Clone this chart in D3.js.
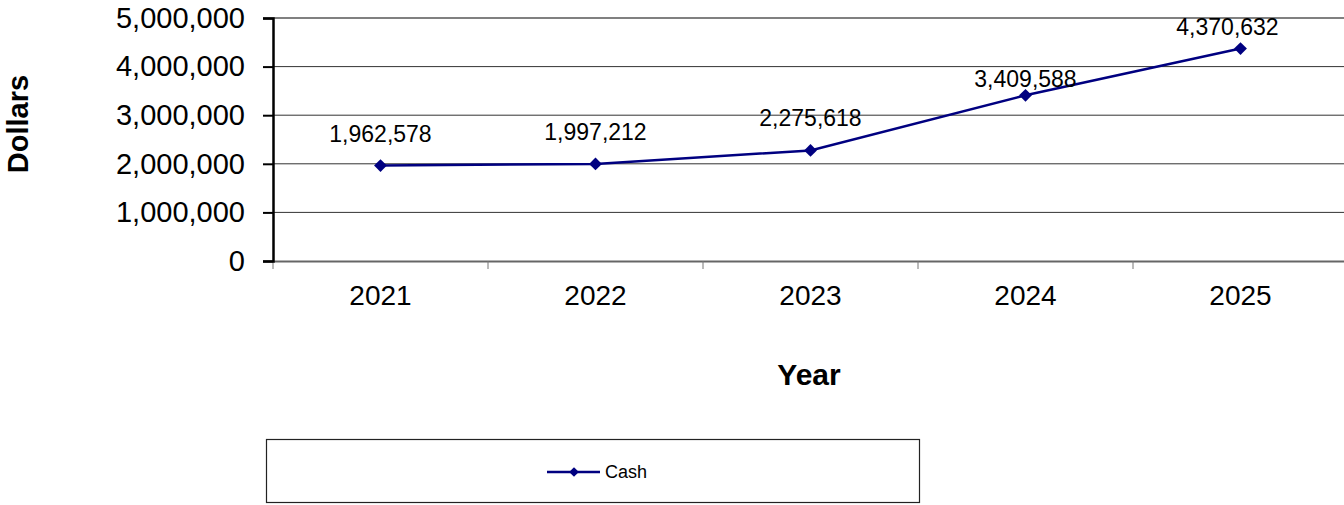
<!DOCTYPE html>
<meta charset="utf-8" />
<script src="https://d3js.org/d3.v7.min.js"></script>
<style>
  body { margin: 0; background: #fff; }
  text { font-family: "Liberation Sans", Arial, sans-serif; }
</style>
<svg id="chart" width="1344" height="505"></svg>
<script>
  // data
  var years = ["2021", "2022", "2023", "2024", "2025"];
  var cash = [1962578, 1997212, 2275618, 3409588, 4370632];
  var yTicks = [0, 1000000, 2000000, 3000000, 4000000, 5000000];

  // label nudges (Excel moved the last two labels to fit)
  var labelDx = [0, 0, 0, 0, -13];
  var labelDy = [-24, -24, -24, -8, -14];

  var svg = d3.select("#chart");
  var plotLeft = 273, plotRight = 1348, plotTop = 18, plotBottom = 261;

  var x = d3.scaleBand().domain(years).range([plotLeft, plotRight]);
  var y = d3.scaleLinear().domain([0, 5000000]).range([plotBottom, plotTop]);
  var fmt = d3.format(",");
  var font = "Liberation Sans, Arial, sans-serif";

  // gridlines
  svg.append("g")
    .selectAll("line")
    .data(yTicks.slice(1))
    .enter()
    .append("line")
    .attr("x1", plotLeft).attr("x2", plotRight)
    .attr("y1", function(d) { return y(d); })
    .attr("y2", function(d) { return y(d); })
    .attr("stroke", function(d) { return d == 5000000 ? "#808080" : "#333"; })
    .attr("stroke-width", function(d) { return d == 5000000 ? 2 : 1; });

  // x axis
  var xAxis = svg.append("g")
    .attr("transform", "translate(0," + plotBottom + ")")
    .call(d3.axisBottom(x).tickSize(0).tickPadding(24));
  xAxis.select(".domain").attr("stroke", "#666").attr("stroke-width", 2);
  xAxis.selectAll("text").attr("font-size", 28).attr("fill", "#000")
    .style("font-family", font);
  svg.append("g")
    .selectAll("line")
    .data(years)
    .enter()
    .append("line")
    .attr("x1", function(d) { return x(d); })
    .attr("x2", function(d) { return x(d); })
    .attr("y1", plotBottom).attr("y2", plotBottom + 8)
    .attr("stroke", "#777").attr("stroke-width", 1);

  // y axis
  var yAxis = svg.append("g")
    .attr("transform", "translate(" + plotLeft + ",0)")
    .call(d3.axisLeft(y).tickValues(yTicks).tickFormat(fmt).tickSize(10).tickPadding(18));
  yAxis.select(".domain").attr("stroke", "#000").attr("stroke-width", 2.5);
  yAxis.selectAll(".tick line").attr("stroke", "#000").attr("stroke-width", 2);
  yAxis.selectAll("text").attr("font-size", 29).attr("fill", "#000")
    .style("font-family", font);

  // line
  var line = d3.line()
    .x(function(d, i) { return x(years[i]) + x.bandwidth() / 2; })
    .y(function(d) { return y(d); });
  svg.append("path")
    .datum(cash)
    .attr("d", line)
    .attr("fill", "none")
    .attr("stroke", "#000080")
    .attr("stroke-width", 2.5);

  var diamond = d3.symbol().type(d3.symbolDiamond2).size(105);
  svg.append("g")
    .selectAll("path")
    .data(cash)
    .enter()
    .append("path")
    .attr("d", diamond)
    .attr("transform", function(d, i) {
      return "translate(" + (x(years[i]) + x.bandwidth() / 2) + "," + y(d) + ")";
    })
    .attr("fill", "#000080");

  // data labels
  svg.append("g")
    .selectAll("text")
    .data(cash)
    .enter()
    .append("text")
    .attr("x", function(d, i) { return x(years[i]) + x.bandwidth() / 2 + labelDx[i]; })
    .attr("y", function(d, i) { return y(d) + labelDy[i]; })
    .attr("text-anchor", "middle")
    .attr("font-size", 23)
    .text(function(d) { return fmt(d); });

  // axis titles
  svg.append("text")
    .attr("x", 809).attr("y", 385)
    .attr("text-anchor", "middle")
    .attr("font-size", 30).attr("font-weight", "bold")
    .text("Year");
  svg.append("text")
    .attr("transform", "translate(28,124) rotate(-90)")
    .attr("text-anchor", "middle")
    .attr("font-size", 29).attr("font-weight", "bold")
    .text("Dollars");

  // legend
  var legend = svg.append("g");
  legend.append("rect")
    .attr("x", 266.5).attr("y", 439.5).attr("width", 653).attr("height", 63)
    .attr("fill", "#fff").attr("stroke", "#222").attr("stroke-width", 1.2);
  legend.append("line")
    .attr("x1", 547).attr("x2", 600).attr("y1", 472).attr("y2", 472)
    .attr("stroke", "#000080").attr("stroke-width", 2.5);
  legend.append("path")
    .attr("d", d3.symbol().type(d3.symbolDiamond2).size(60))
    .attr("transform", "translate(574,472)")
    .attr("fill", "#000080");
  legend.append("text")
    .attr("x", 605).attr("y", 478)
    .attr("font-size", 18)
    .text("Cash");
</script>
